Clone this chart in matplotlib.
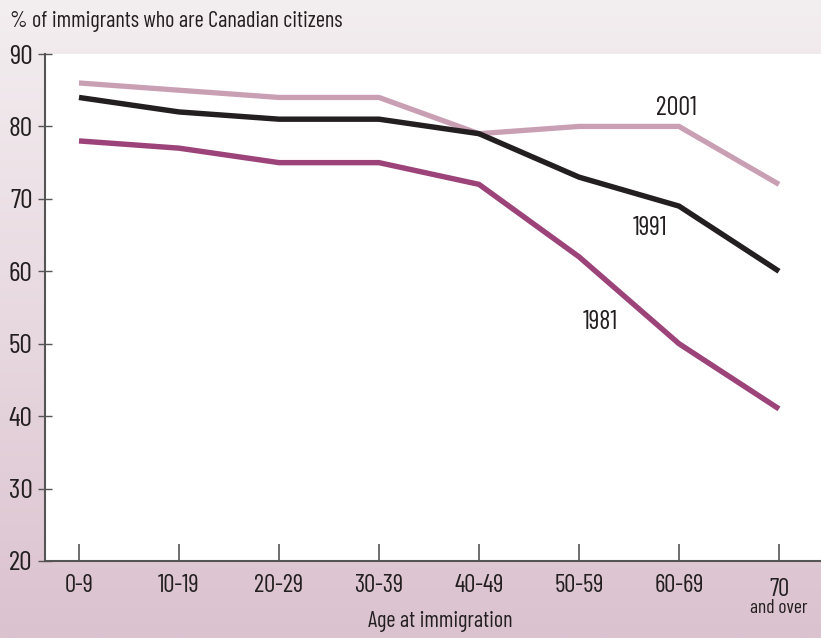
import matplotlib
matplotlib.use("Agg")
import matplotlib.pyplot as plt
import numpy as np
from matplotlib.colors import LinearSegmentedColormap
from matplotlib.transforms import ScaledTranslation

categories = ["0-9", "10-19", "20-29", "30-39", "40-49", "50-59", "60-69", "70"]
y2001 = [86, 85, 84, 84, 79, 80, 80, 72]
y1991 = [84, 82, 81, 81, 79, 73, 69, 60]
y1981 = [78, 77, 75, 75, 72, 62, 50, 41]
yticks = [20, 30, 40, 50, 60, 70, 80, 90]

FONT = ['Barlow Condensed', 'DejaVu Sans']
plt.rcParams['font.family'] = FONT
txt = '#231f20'

fig = plt.figure(figsize=(8.21, 6.38), dpi=100)
# background gradient
bg = fig.add_axes([0, 0, 1, 1], zorder=-10)
cmap = LinearSegmentedColormap.from_list('bg', ['#f3eef0', '#e8d9e0', '#dbc2cf'])
grad = np.linspace(0, 1, 256).reshape(-1, 1)
bg.imshow(grad, aspect='auto', cmap=cmap, extent=[0, 1, 0, 1], origin='upper')
bg.axis('off')

ax = fig.add_axes([45/821, 77/638, 1 - 45/821, (561-54)/638])
ax.set_facecolor('white')
x = np.arange(len(categories))
ax.plot(x, y2001, color='#c99fb4', lw=3.8, solid_joinstyle='miter', solid_capstyle='butt')
ax.plot(x, y1991, color='#231f20', lw=3.9, solid_joinstyle='miter', solid_capstyle='butt')
ax.plot(x, y1981, color='#9c4479', lw=3.9, solid_joinstyle='miter', solid_capstyle='butt')

ax.set_xlim(-0.34, 7.42)
ax.set_ylim(20, 90)
ax.set_yticks(yticks)
ax.set_yticklabels([str(v) for v in yticks], fontsize=20, color=txt)
ax.set_xticks(x)
ax.set_xticklabels(categories, fontsize=18, color=txt)
ax.tick_params(axis='x', direction='in', length=12, width=1.2, color='#555555', pad=9)
ax.tick_params(axis='y', direction='inout', length=10, width=1, color='#555555', pad=4)
last = ax.get_xticklabels()[-1]
last.set_transform(last.get_transform() + ScaledTranslation(0, -4/100, fig.dpi_scale_trans))
for s in ['top', 'right']:
    ax.spines[s].set_visible(False)
for s in ['left', 'bottom']:
    ax.spines[s].set_color('#555555')
    ax.spines[s].set_linewidth(1.5)

ax.text(7, 13.5, "and over", ha='center', va='center', fontsize=14, color=txt)

ax.text(5.97, 82.5, "2001", fontsize=19, color=txt, ha='center', va='center')
ax.text(5.71, 66.0, "1991", fontsize=19, color=txt, ha='center', va='center')
ax.text(5.21, 53.0, "1981", fontsize=19, color=txt, ha='center', va='center')

fig.text(10/821, 1 - 22/638, "% of immigrants who are Canadian citizens", fontsize=16,
         color=txt, ha='left', va='center')
fig.text(440/821, 1 - 622/638, "Age at immigration", fontsize=16, color=txt,
         ha='center', va='center')

fig.savefig("out.png", dpi=100)
